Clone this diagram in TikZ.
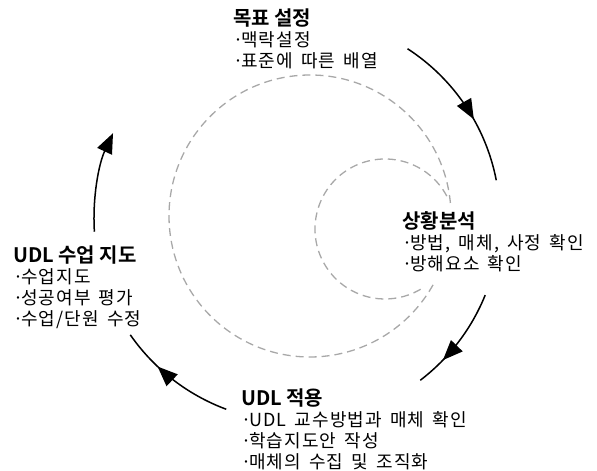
\documentclass[tikz,border=0pt]{standalone}
\usepackage{fontspec}
\newfontfamily\kr{Noto Sans CJK KR}[BoldFont={Noto Sans CJK KR Bold}, WordSpace=1.6, LetterSpace=6]
\newfontfamily\krb{Noto Sans CJK KR Bold}
\usetikzlibrary{arrows.meta,decorations.markings,calc}
\definecolor{guidegray}{RGB}{168,168,168}
\tikzset{
  guide/.style={draw=guidegray, line width=1.3pt, dash pattern=on 8pt off 5pt},
  flow/.style={draw=black, line width=1.5pt},
  headtip/.style={-{Triangle[length=20pt,width=16pt]}},
  midtip/.style={postaction={decorate}, decoration={markings,
      mark=at position #1 with {\arrow{Triangle[length=20pt,width=16pt]}}}},
  blocktext/.style={anchor=north west, inner sep=0pt, align=left,
      font=\kr\fontsize{18}{21}\selectfont}
}
\newcommand{\blocktitle}[1]{{\krb\fontsize{20}{21}\selectfont #1}}
\newcommand{\bul}{·\kern-2pt}
\begin{document}
\begin{tikzpicture}[x=1pt,y=1pt]
\useasboundingbox (0,0) rectangle (597,471);
% dashed guide circles
\coordinate (B) at (310,255);
\coordinate (S) at (385,242);
\draw[guide] ($(B)+(5.3:141pt)$) arc[start angle=5.3, end angle=331.6, radius=141pt];
\draw[guide] ($(S)+(28:70pt)$) arc[start angle=28, end angle=303, radius=70pt];
% flow arcs
\coordinate (C) at (297,252);
\coordinate (a1s) at ($(C)+(57:203pt)$);
\coordinate (a2s) at ($(C)+(-22:203pt)$);
\coordinate (a3s) at ($(C)+(249.6:203pt)$);
\coordinate (a4s) at ($(C)+(183.6:203pt)$);
\draw[flow, midtip=0.6] (a1s) arc[start angle=57, end angle=11, radius=203pt];
\draw[flow, midtip=0.72] (a2s) arc[start angle=-22, end angle=-52.6, radius=203pt];
\draw[flow, midtip=0.66] (a3s) arc[start angle=249.6, end angle=214.8, radius=203pt];
\draw[flow, headtip] (a4s) arc[start angle=183.6, end angle=155, radius=203pt];
% text blocks
\node[blocktext] (goal) at (233,462) {\blocktitle{목표 설정}\\\bul 맥락설정\\\bul 표준에 따른 배열};
\node[blocktext] (anal) at (402,260) {\blocktitle{상황분석}\\\bul 방법, 매체, 사정 확인\\\bul 방해요소 확인};
\node[blocktext] (teach) at (13,225) {\blocktitle{UDL 수업 지도}\\\bul 수업지도\\\bul 성공여부 평가\\\bul 수업/단원 수정};
\node[blocktext] (apply) at (241,82) {\blocktitle{UDL 적용}\\\bul UDL 교수방법과 매체 확인\\\bul 학습지도안 작성\\\bul 매체의 수집 및 조직화};
\end{tikzpicture}
\end{document}
